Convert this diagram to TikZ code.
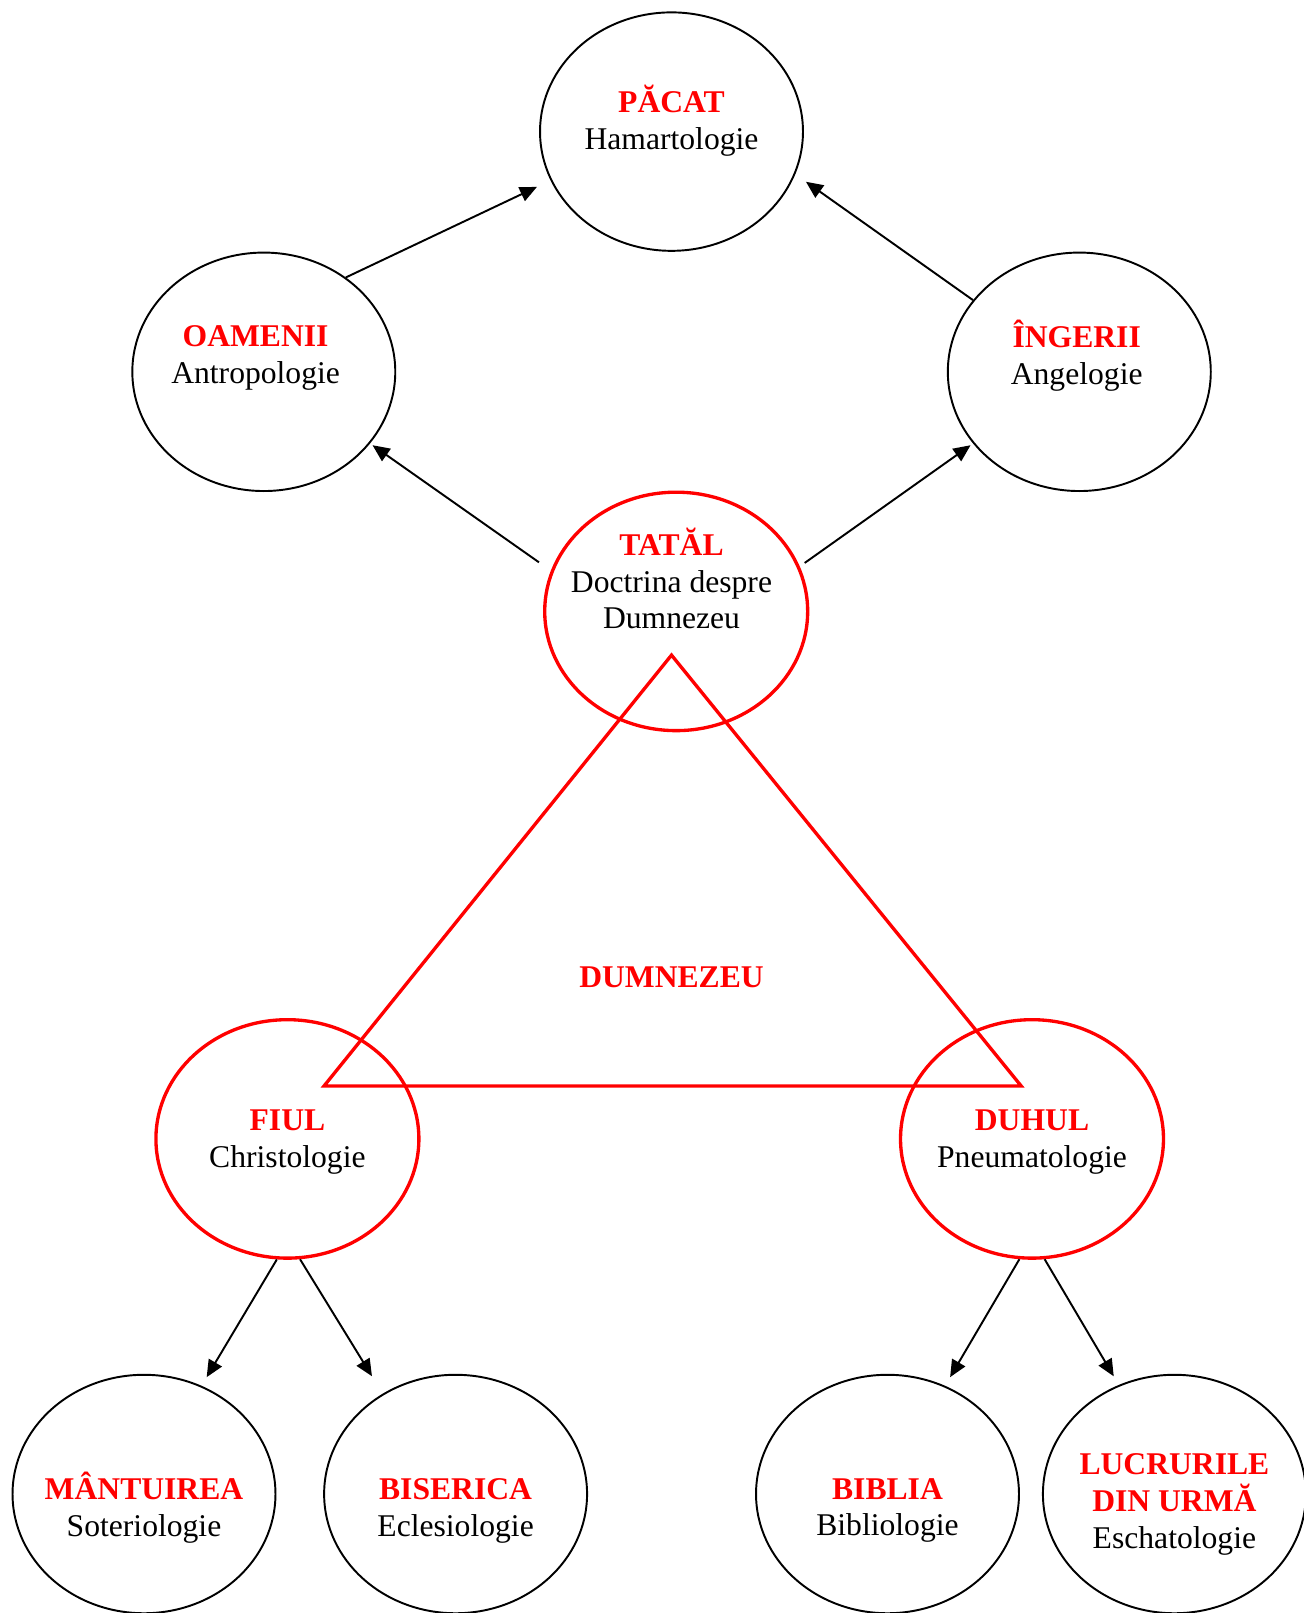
\documentclass[tikz,border=0pt]{standalone}
\usepackage{fontspec}
\setmainfont{Liberation Serif}
\usetikzlibrary{shapes.geometric,arrows.meta}
\tikzset{
  cerc/.style={ellipse,draw,line width=1.1pt,minimum width=5.26cm,minimum height=4.77cm,inner sep=0pt},
  cercrosu/.style={cerc,draw=red,line width=1.9pt},
  eticheta/.style={align=center,font=\fontsize{18}{21}\selectfont,inner sep=0pt},
  sageata/.style={line width=1.1pt,-{Triangle[length=3.4mm,width=3mm]}}
}
\newcommand{\titlu}[1]{\textcolor{red}{\textbf{#1}}}
\begin{document}
\begin{tikzpicture}[x=0.02cm,y=-0.02cm,line join=round]
	%cadru
	\useasboundingbox (0,0) rectangle (1304,1613);
	%cercurile
	\node[cerc] (pacat) at (671.5,131.6) {};
	\node[cerc] (oameni) at (263.8,371.8) {};
	\node[cerc] (ingeri) at (1079.3,371.8) {};
	\node[cercrosu] (tatal) at (676.2,611.4) {};
	\node[cercrosu] (fiul) at (287.4,1138.9) {};
	\node[cercrosu] (duhul) at (1032,1138.9) {};
	\node[cerc] (mantuirea) at (144,1494) {};
	\node[cerc] (biserica) at (455.6,1494) {};
	\node[cerc] (biblia) at (887.5,1494) {};
	\node[cerc] (lucrurile) at (1174.4,1494) {};
	%triunghiul
	\draw[red,line width=1.9pt,line join=miter] (671.5,655.1)--(1021.2,1086)--(324,1086)--cycle;
	%textele
	\node[eticheta] (pacatT) at (671.5,121) {\titlu{PĂCAT}\\Hamartologie};
	\node[eticheta] (oameniT) at (255.6,358) {\titlu{OAMENII}\\Antropologie};
	\node[eticheta] (ingeriT) at (1076.7,356) {\titlu{ÎNGERII}\\Angelogie};
	\node[eticheta] (tatalT) at (671.5,578.5) {\titlu{TATĂL}\\Doctrina despre\\Dumnezeu};
	\node[eticheta] (dumnezeuT) at (671.5,977) {\titlu{DUMNEZEU}};
	\node[eticheta] (fiulT) at (287.4,1142) {\titlu{FIUL}\\Christologie};
	\node[eticheta] (duhulT) at (1032,1142) {\titlu{DUHUL}\\Pneumatologie};
	\node[eticheta] (mantuireaT) at (144,1507.5) {\titlu{MÂNTUIREA}\\Soteriologie};
	\node[eticheta] (sisericaT) at (455.6,1510.5) {\titlu{BISERICA}\\Eclesiologie};
	\node[eticheta] (bibliaT) at (887.5,1510.5) {\titlu{BIBLIA}\\Bibliologie};
	\node[eticheta] (lucrurileT) at (1174.4,1504.5) {\titlu{LUCRURILE}\\\titlu{DIN URMĂ}\\Eschatologie};
	%sagetile
	\foreach \a/\b/\s/\e in {oameni.49/pacat.-158/0/0.3,ingeri.146/pacat.-19/0/0.26,
		tatal.162.5/oameni.-34/0.29/0.06,tatal.20/ingeri.-146/0.12/0.06,
		fiul.-95.6/mantuirea.62.3/0/0.2,fiul.-84/biserica.126.7/0/0.41,
		duhul.-96/biblia.62/0/0.2,duhul.-84.4/lucrurile.117.7/0/0.2}
	\draw[sageata,shorten <=\s cm,shorten >=\e cm] (\a)--(\b);
\end{tikzpicture}
\end{document}
